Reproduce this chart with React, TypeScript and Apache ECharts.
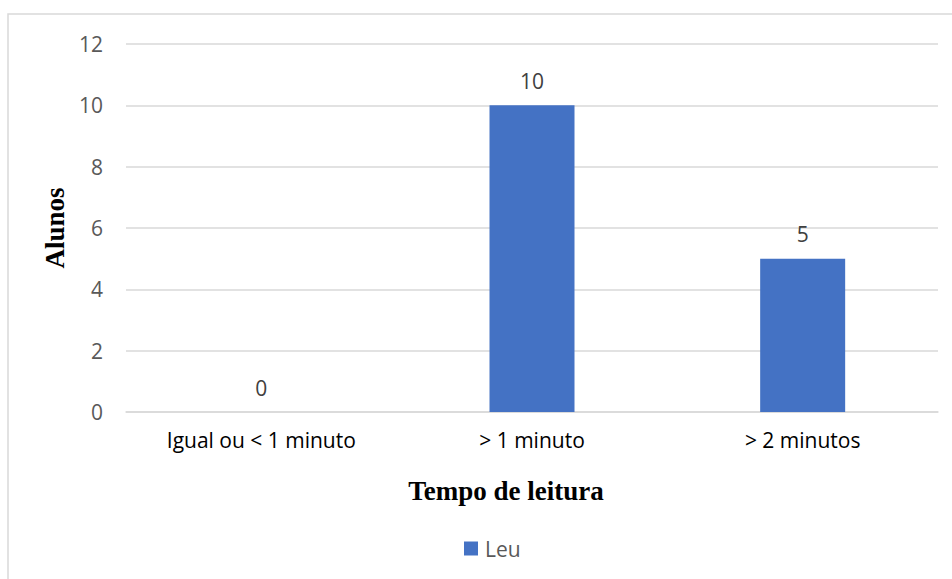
import React, { useEffect, useRef } from "react";
import * as echarts from "echarts";

const categories = ["Igual ou < 1 minuto", "> 1 minuto", "> 2 minutos"];
const leuValues = [0, 10, 5];
const yTicks = { min: 0, max: 12, interval: 2 };
const xTitle = "Tempo de leitura";
const yTitle = "Alunos";

export default function App() {
  const ref = useRef<HTMLDivElement>(null);
  useEffect(() => {
    const chart = echarts.init(ref.current!, null, { renderer: "svg" });
    chart.setOption({
      animation: false,
      graphic: [
        {
          type: "rect",
          shape: { x: 8, y: 14, width: 960, height: 600 },
          style: { fill: "none", stroke: "#d9d9d9", lineWidth: 1.5 },
          silent: true,
        },
        {
          type: "text",
          x: 506,
          y: 491,
          style: {
            text: xTitle,
            fontFamily: "Liberation Serif",
            fontWeight: "bold",
            fontSize: 27,
            fill: "#000",
            align: "center",
            verticalAlign: "middle",
          },
        },
      ],
      grid: { left: 126, right: 14, top: 44, bottom: 167, containLabel: false },
      xAxis: {
        type: "category",
        data: categories,
        axisTick: { show: false },
        axisLine: { lineStyle: { color: "#d9d9d9", width: 1.5 } },
        axisLabel: { color: "#000000", fontSize: 21, fontFamily: "Open Sans", margin: 17 },
      },
      yAxis: {
        type: "value",
        min: yTicks.min,
        max: yTicks.max,
        interval: yTicks.interval,
        axisLine: { show: false },
        axisTick: { show: false },
        splitLine: { lineStyle: { color: "#d9d9d9", width: 1.5 } },
        axisLabel: { color: "#595959", fontSize: 21, fontFamily: "Open Sans", margin: 23 },
        name: yTitle,
        nameLocation: "middle",
        nameGap: 46,
        nameRotate: 90,
        nameTextStyle: { fontFamily: "Liberation Serif", fontWeight: "bold", fontSize: 27, color: "#000" },
      },
      legend: {
        bottom: 15,
        left: 459,
        itemWidth: 14,
        itemHeight: 14,
        itemGap: 6,
        icon: "rect",
        textStyle: { color: "#595959", fontSize: 21, fontFamily: "Open Sans", padding: [0, 0, 0, 2] },
        data: ["Leu"],
      },
      series: [
        {
          name: "Leu",
          type: "bar",
          data: leuValues,
          barWidth: 85,
          itemStyle: { color: "#4472c4" },
          label: {
            show: true,
            position: "top",
            distance: 14,
            color: "#404040",
            fontSize: 21,
            fontFamily: "Open Sans",
          },
        },
      ],
    });
    return () => chart.dispose();
  }, []);
  return <div ref={ref} style={{ width: 952, height: 579, position: "absolute", left: 0, top: 0 }} />;
}
